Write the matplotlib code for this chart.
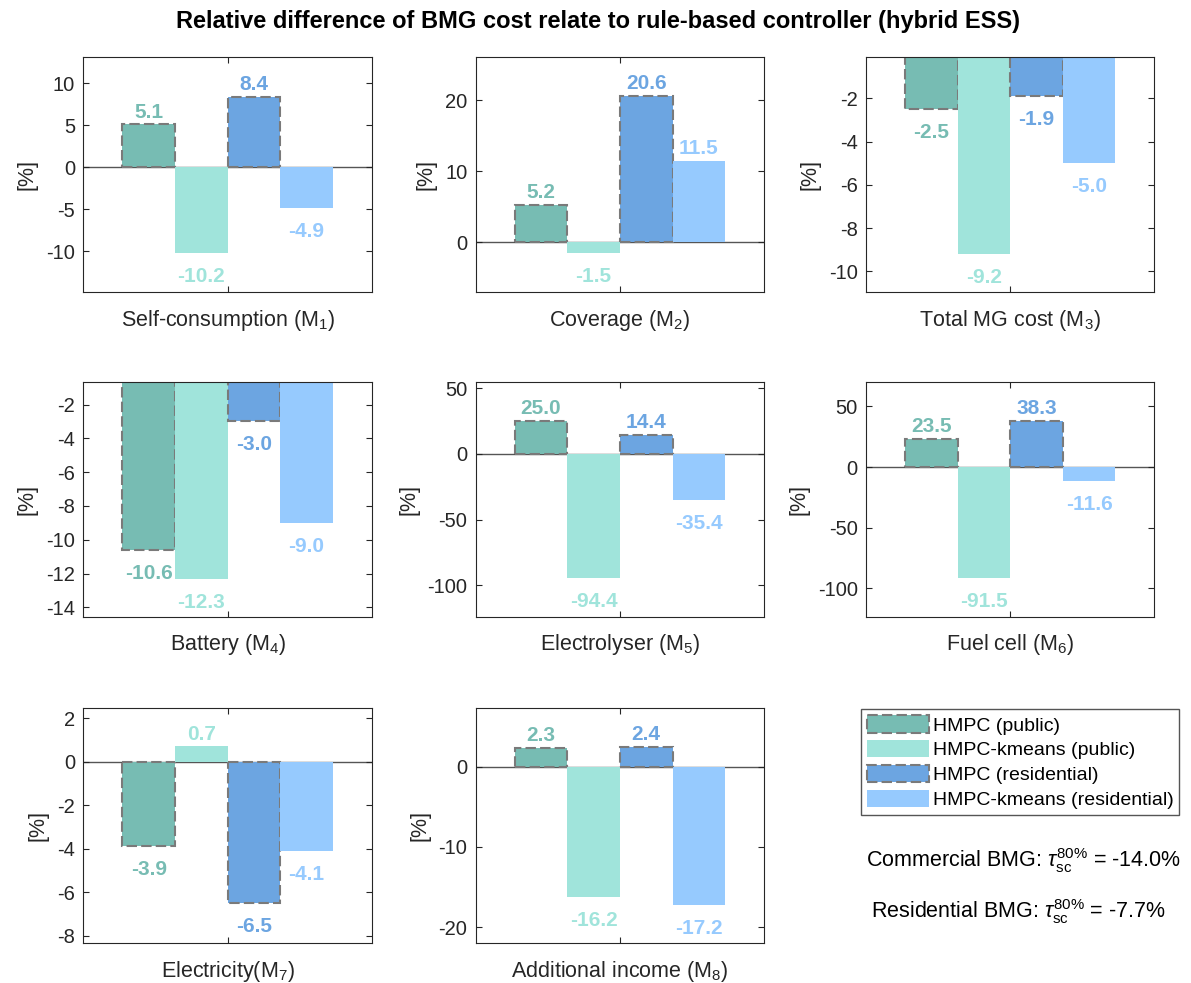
import matplotlib
matplotlib.use("Agg")
import matplotlib.pyplot as plt
import matplotlib.patches as mpatches
import numpy as np

plt.rcParams["font.family"] = ["Liberation Sans", "DejaVu Sans"]
plt.rcParams["mathtext.fontset"] = "custom"
plt.rcParams["mathtext.rm"] = "Liberation Sans"
plt.rcParams["mathtext.it"] = "Liberation Sans:italic"
plt.rcParams["mathtext.bf"] = "Liberation Sans:bold"
plt.rcParams["axes.unicode_minus"] = False

# metric names (x labels of each panel)
categories = [
    "Self-consumption (M$_1$)",
    "Coverage (M$_2$)",
    "Total MG cost (M$_3$)",
    "Battery (M$_4$)",
    "Electrolyser (M$_5$)",
    "Fuel cell (M$_6$)",
    "Electricity(M$_7$)",
    "Additional income (M$_8$)",
]

series_names = [
    "HMPC (public)",
    "HMPC-kmeans (public)",
    "HMPC (residential)",
    "HMPC-kmeans (residential)",
]

hmpc_public = [5.1, 5.2, -2.5, -10.6, 25.0, 23.5, -3.9, 2.3]
kmeans_public = [-10.2, -1.5, -9.2, -12.3, -94.4, -91.5, 0.7, -16.2]
hmpc_residential = [8.4, 20.6, -1.9, -3.0, 14.4, 38.3, -6.5, 2.4]
kmeans_residential = [-4.9, 11.5, -5.0, -9.0, -35.4, -11.6, -4.1, -17.2]

tau_commercial = -14.0
tau_residential = -7.7

# axis ranges / ticks
y_limits = [(-14.9, 13.1), (-7.1, 26.1), (-10.97, -0.1), (-14.55, -0.65),
            (-124, 55), (-123.5, 70.4), (-8.35, 2.45), (-22, 7.25)]
y_ticks = [[-10, -5, 0, 5, 10], [0, 10, 20], [-10, -8, -6, -4, -2],
           [-14, -12, -10, -8, -6, -4, -2], [-100, -50, 0, 50],
           [-100, -50, 0, 50], [-8, -6, -4, -2, 0, 2], [-20, -10, 0]]

colors = ["#77BCB3", "#A0E4DB", "#6CA5E1", "#96CAFE"]
dashed = [True, False, True, False]
edge_gray = "#7A7A7A"
dash_style = (0, (5, 2))
ink = "#262626"

fig = plt.figure(figsize=(11.91, 9.83), dpi=100)

col_left = [0.0700, 0.3994, 0.7271]
row_bottom = [0.7026, 0.3726, 0.0404]
ax_w, ax_h = 0.2422, 0.2391

series = [hmpc_public, kmeans_public, hmpc_residential, kmeans_residential]
width = 0.1825
offsets = np.array([-1.5, -0.5, 0.5, 1.5]) * width

for i, name in enumerate(categories):
    r, c = divmod(i, 3)
    ax = fig.add_axes([col_left[c], row_bottom[r], ax_w, ax_h])
    ax.axhline(0, color="#555555", lw=1.0, zorder=1)
    for k, vals in enumerate(series):
        v = vals[i]
        if dashed[k]:
            ax.bar(1 + offsets[k], v, width, color=colors[k], edgecolor=edge_gray,
                   linewidth=1.5, linestyle=dash_style, zorder=2)
        else:
            ax.bar(1 + offsets[k], v, width, color=colors[k], linewidth=0, zorder=2)
        if v >= 0:
            ax.annotate(f"{v:.1f}", (1 + offsets[k], v), xytext=(0, 2),
                        textcoords="offset points", ha="center", va="bottom",
                        color=colors[k], fontsize=15, fontweight="bold")
        else:
            ax.annotate(f"{v:.1f}", (1 + offsets[k], v), xytext=(0, -10),
                        textcoords="offset points", ha="center", va="top",
                        color=colors[k], fontsize=15, fontweight="bold")
    ax.set_xlim(0.5, 1.5)
    ax.set_ylim(*y_limits[i])
    ax.set_yticks(y_ticks[i])
    ax.set_xticks([1])
    ax.set_xticklabels([""])
    ax.tick_params(direction="in", length=4, width=0.8, color=ink, labelcolor=ink,
                   labelsize=14.5, pad=6, top=True, right=True)
    for sp in ax.spines.values():
        sp.set_color(ink)
        sp.set_linewidth(0.8)
    ax.set_xlabel(name, fontsize=15.5, color=ink, labelpad=5)
    ax.set_ylabel("[%]", fontsize=15.5, color=ink, labelpad=6)

fig.suptitle("Relative difference of BMG cost relate to rule-based controller (hybrid ESS)",
             x=0.502, y=0.978, fontsize=17, fontweight="bold", va="center")

handles = []
for k, lab in enumerate(series_names):
    if dashed[k]:
        handles.append(mpatches.Patch(facecolor=colors[k], edgecolor=edge_gray,
                                      linewidth=1.5, linestyle=dash_style, label=lab))
    else:
        handles.append(mpatches.Patch(facecolor=colors[k], linewidth=0, label=lab))
leg = fig.legend(handles=handles, loc="upper left", bbox_to_anchor=(0.7227, 0.2784),
                 borderaxespad=0, fontsize=14, fancybox=False, framealpha=1,
                 handlelength=3.2, handleheight=1.0, handletextpad=0.2,
                 labelspacing=0.28, borderpad=0.3)
leg.get_frame().set_edgecolor("#555555")
leg.get_frame().set_linewidth(1.0)

fig.text(0.859, 0.1177, rf"Commercial BMG: $\tau_{{\mathrm{{sc}}}}^{{80\%}}$ = {tau_commercial:.1f}%",
         ha="center", va="baseline", fontsize=15.5, color="black")
fig.text(0.855, 0.0658, rf"Residential BMG: $\tau_{{\mathrm{{sc}}}}^{{80\%}}$ = {tau_residential:.1f}%",
         ha="center", va="baseline", fontsize=15.5, color="black")

fig.savefig("out.png", dpi=100)
